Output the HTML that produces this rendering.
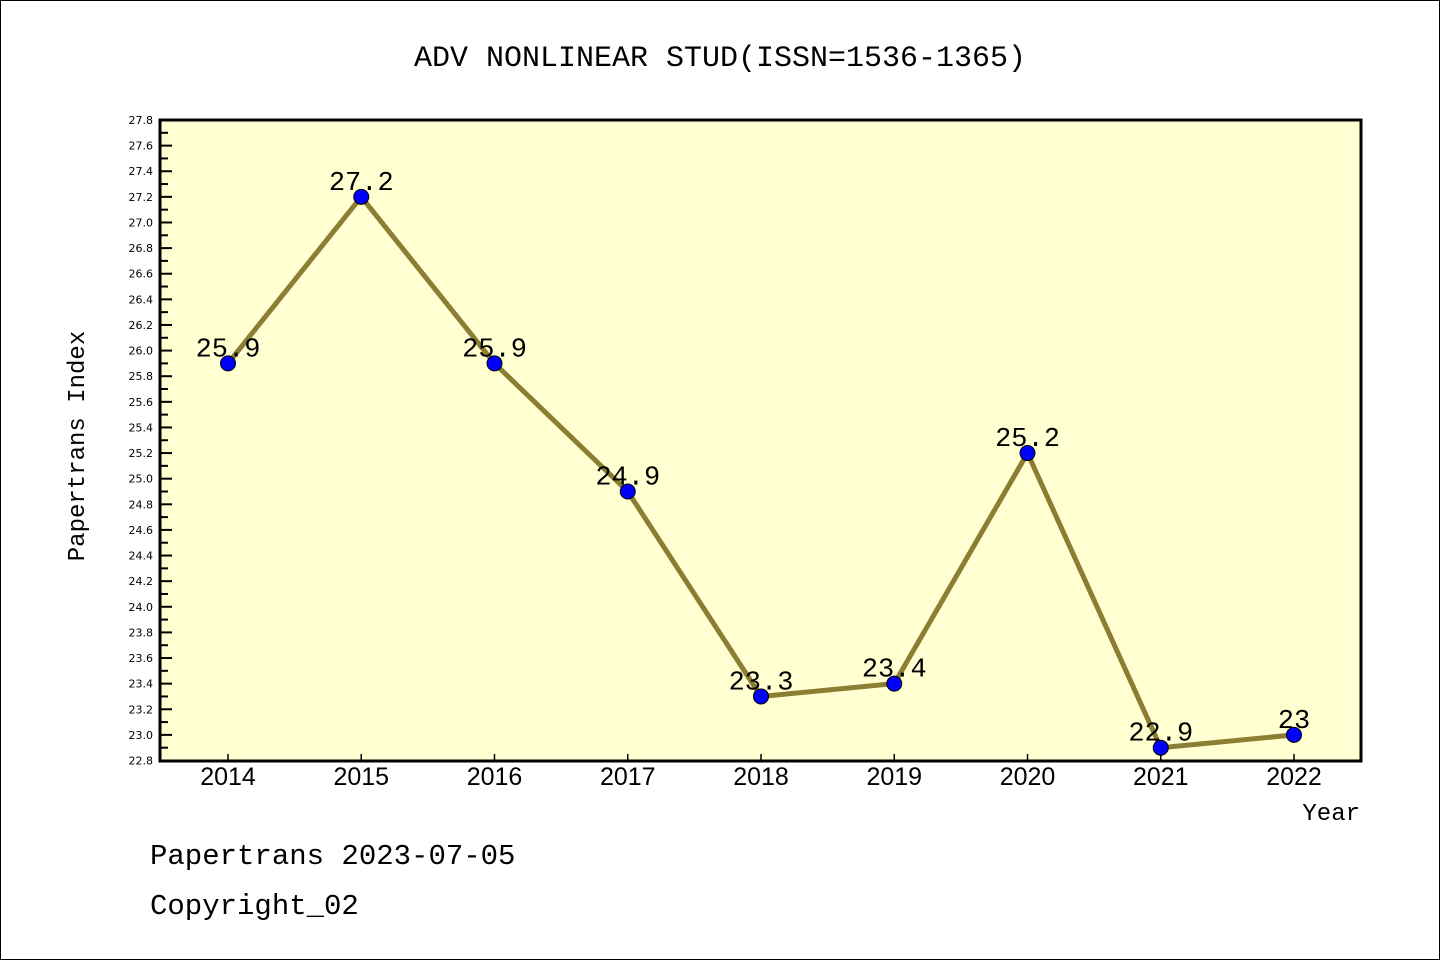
<!DOCTYPE html>
<html><head><meta charset="utf-8"><style>
html,body{margin:0;padding:0;background:#fff}
svg{display:block}
text{font-family:"Liberation Mono","DejaVu Sans Mono",monospace}
</style></head><body>
<svg id="chart" width="1440" height="960" xmlns="http://www.w3.org/2000/svg">
<rect x="0.5" y="0.5" width="1439" height="959" fill="#fff" stroke="#000" stroke-width="1"/>
<text x="720" y="66" font-size="30" text-anchor="middle">ADV NONLINEAR STUD(ISSN=1536-1365)</text>
<rect x="160" y="120" width="1201" height="641" fill="#ffffd2" stroke="#000" stroke-width="3"/>
<text transform="translate(84,446) rotate(-90)" font-size="24" text-anchor="middle">Papertrans Index</text>
<text x="1360" y="820" font-size="24" text-anchor="end">Year</text>
<text x="150" y="864" font-size="29">Papertrans 2023-07-05</text>
<text x="150" y="914" font-size="29">Copyright_02</text>
<g id="axes"></g>
<g id="marks"></g>
</svg>
<script>
const years = [2014,2015,2016,2017,2018,2019,2020,2021,2022];
const values = [25.9,27.2,25.9,24.9,23.3,23.4,25.2,22.9,23.0];
const valueLabels = ["25.9","27.2","25.9","24.9","23.3","23.4","25.2","22.9","23"];
const yTicks = [22.8,23.0,23.2,23.4,23.6,23.8,24.0,24.2,24.4,24.6,24.8,25.0,25.2,25.4,25.6,25.8,26.0,26.2,26.4,26.6,26.8,27.0,27.2,27.4,27.6,27.8];

{
const NS="http://www.w3.org/2000/svg";
const yMin=22.8,yMax=27.8,plotTop=120,plotBottom=760.5;
const y=v=>plotBottom-(v-yMin)/(yMax-yMin)*(plotBottom-plotTop);
const x=yr=>228+(yr-2014)*133.25;
function mk(tag,attrs,parent){const e=document.createElementNS(NS,tag);for(const k in attrs)e.setAttribute(k,attrs[k]);parent.appendChild(e);return e;}
const axes=document.getElementById('axes'),marks=document.getElementById('marks');

yTicks.forEach((t,i)=>{
  const yy=y(t);
  const l=mk('line',{x1:160,x2:172,y1:yy,y2:yy,stroke:'#000','stroke-width':2},axes);
  
  
  if(i<yTicks.length-1){
    const m=mk('line',{x1:160,x2:168,y1:y(t+0.1),y2:y(t+0.1),stroke:'#000','stroke-width':2},axes);
    
    
  }
  const tx=mk('text',{x:153,y:yy+4,'font-size':11,'text-anchor':'end',style:'font-family:"DejaVu Sans",sans-serif'},axes);
  tx.textContent=t.toFixed(1);
  
  
});
years.forEach(yr=>{
  const l=mk('line',{x1:x(yr),x2:x(yr),y1:760,y2:754,stroke:'#000','stroke-width':1.5},axes);
  
  
  const tx=mk('text',{x:x(yr),y:785,'font-size':25,'text-anchor':'middle',style:'font-family:"Liberation Sans",sans-serif'},axes);
  tx.textContent=yr;
  
  
});
const pl=mk('polyline',{points:years.map((yr,i)=>x(yr)+','+y(values[i])).join(' '),fill:'none',stroke:'#8b7d32','stroke-width':5},marks);


years.forEach((yr,i)=>{
  const c=mk('circle',{cx:x(yr),cy:y(values[i]),r:7.5,fill:'#0000ff',stroke:'#000','stroke-width':1},marks);
  
  
  const tx=mk('text',{x:x(yr),y:y(values[i])-7,'font-size':27,'text-anchor':'middle'},marks);
  tx.textContent=valueLabels[i];
  
  
});
}
</script>
</body></html>
